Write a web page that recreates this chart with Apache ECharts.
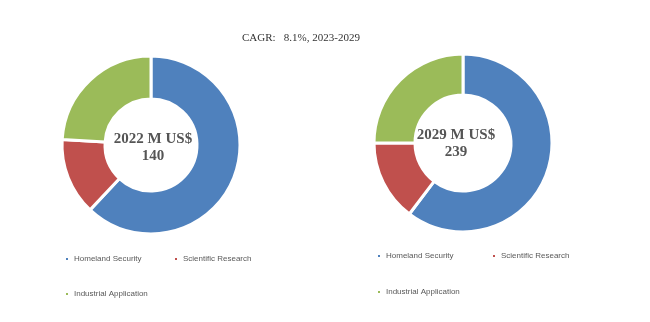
<!DOCTYPE html>
<html>
<head>
<meta charset="utf-8">
<script src="https://cdn.jsdelivr.net/npm/echarts@6/dist/echarts.min.js"></script>
<style>
  html, body { margin: 0; padding: 0; background: #fff; }
  #chart { width: 650px; height: 322px; }
</style>
</head>
<body>
<div id="chart"></div>
<script>
// Market segments and their shares (%) of the total market size
const categories = ['Homeland Security', 'Scientific Research', 'Industrial Application'];
const share2022 = [62, 14, 24];
const share2029 = [60.3, 14.7, 25];
const years = ['2022', '2029'];
const totals = [140, 239];
const cagrText = 'CAGR:   8.1%, 2023-2029';

const colors = ['#4F81BD', '#C0504D', '#9BBB59'];

function pieData(values) {
  return categories.map((name, i) => ({ name: name, value: values[i] }));
}

const chart = echarts.init(document.getElementById('chart'), null, { renderer: 'canvas' });

const legendBase = {
  icon: 'rect',
  itemWidth: 4,
  itemHeight: 4,
  itemGap: 0,
  padding: 0,
  textStyle: { fontFamily: 'Liberation Sans', fontSize: 8, color: '#595959' },
  selectedMode: false
};

// One legend entry per box so each sits where it belongs under its donut
const legendSpots = [
  { left: 64, top: 255, name: categories[0] },
  { left: 173, top: 255, name: categories[1] },
  { left: 64, top: 290, name: categories[2] },
  { left: 376, top: 252, name: categories[0] },
  { left: 491, top: 252, name: categories[1] },
  { left: 376, top: 288, name: categories[2] }
];

const centerLabels = [
  { x: 153, y: 131 },
  { x: 456, y: 127 }
];

const option = {
  color: colors,
  animation: false,
  legend: legendSpots.map(s => Object.assign({}, legendBase, {
    left: s.left, top: s.top, data: [s.name]
  })),
  graphic: [
    {
      type: 'text', left: 242, top: 33,
      style: { text: cagrText, font: '11px "Liberation Serif"', fill: '#333333' }
    }
  ].concat(centerLabels.map((p, i) => ({
    type: 'text', x: p.x, y: p.y,
    style: {
      text: years[i] + ' M US$\n' + totals[i],
      textAlign: 'center',
      font: 'bold 15px "Liberation Serif"',
      lineHeight: 17,
      fill: '#555555'
    }
  }))),
  series: [
    {
      type: 'pie',
      center: [151, 145],
      radius: [46, 89],
      startAngle: 90,
      clockwise: true,
      label: { show: false },
      labelLine: { show: false },
      itemStyle: { borderColor: '#ffffff', borderWidth: 3 },
      emphasis: { disabled: true },
      data: pieData(share2022)
    },
    {
      type: 'pie',
      center: [463, 143],
      radius: [48, 89],
      startAngle: 90,
      clockwise: true,
      label: { show: false },
      labelLine: { show: false },
      itemStyle: { borderColor: '#ffffff', borderWidth: 3 },
      emphasis: { disabled: true },
      data: pieData(share2029)
    }
  ]
};

chart.setOption(option);
</script>
</body>
</html>
